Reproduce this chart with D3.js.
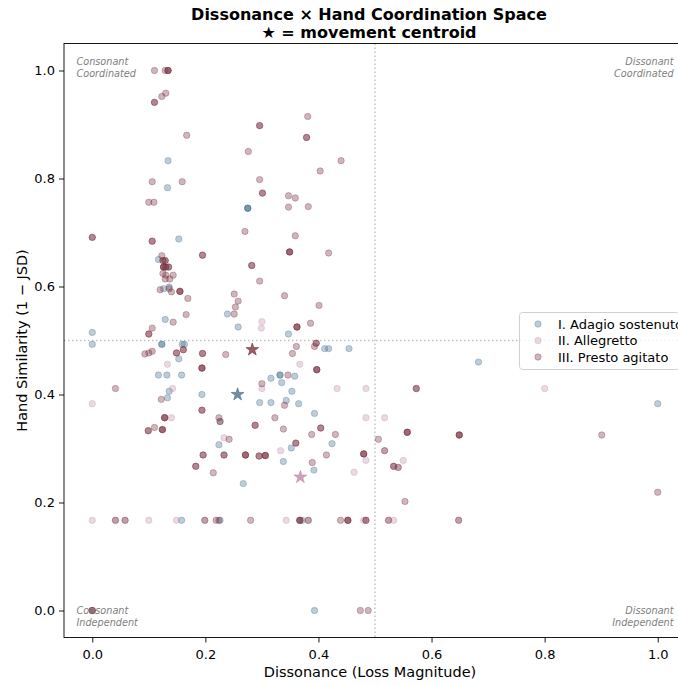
<!DOCTYPE html>
<html><head><meta charset="utf-8">
<script src="https://cdn.jsdelivr.net/npm/d3@7"></script>
<style>body{margin:0;background:#fff}svg{display:block;font-family:"DejaVu Sans",sans-serif}</style>
</head><body>
<script>
// ---- data ----
const seriesNames = ["I. Adagio sostenuto", "II. Allegretto", "III. Presto agitato"];
const adagio = [
 [0.134,0.833],[0.133,0.783],[0.275,0.745],[0.275,0.745],[0.275,0.745],[0.153,0.688],[0.117,0.650],
 [0.136,0.599],[0.126,0.596],[0.129,0.539],[0.239,0.549],[0.258,0.525],[0.0,0.515],[0.0,0.493],
 [0.123,0.493],[0.123,0.493],[0.159,0.493],[0.163,0.493],[0.153,0.466],[0.117,0.436],[0.132,0.436],
 [0.158,0.436],[0.347,0.512],[0.411,0.485],[0.418,0.485],[0.454,0.485],[0.316,0.430],[0.332,0.436],
 [0.332,0.436],[0.358,0.434],[0.335,0.422],[0.353,0.406],[0.296,0.385],[0.316,0.385],[0.343,0.389],
 [0.365,0.383],[0.393,0.365],[0.424,0.309],[0.352,0.301],[0.338,0.276],[0.392,0.260],[0.136,0.406],
 [0.133,0.394],[0.194,0.400],[0.226,0.350],[0.224,0.307],[0.267,0.235],[0.158,0.167],[0.226,0.167],
 [0.371,0.167],[0.393,0.0],[0.683,0.460],[1.0,0.383]
];
const allegretto = [
 [0.300,0.535],[0.299,0.523],[0.133,0.456],[0.367,0.456],[0.300,0.411],[0.433,0.411],[0.484,0.411],
 [0.800,0.411],[0.484,0.357],[0.517,0.357],[0.333,0.296],[0.484,0.278],[0.463,0.256],[0.550,0.278],
 [0.517,0.296],[0.541,0.265],[0.0,0.383],[0.142,0.411],[0.140,0.357],[0.233,0.320],
 [0.0,0.167],[0.041,0.167],[0.058,0.167],[0.100,0.167],[0.149,0.167],[0.199,0.167],[0.343,0.167],
 [0.382,0.167],[0.480,0.167],[0.524,0.167],[0.533,0.167],[0.648,0.167]
];
const presto = [
 [0.110,1.0],[0.129,1.0],[0.134,1.0],[0.134,1.0],[0.134,1.0],[0.130,0.958],[0.123,0.952],[0.110,0.941],
 [0.110,0.941],[0.296,0.898],[0.296,0.898],[0.167,0.880],[0.276,0.850],[0.106,0.794],[0.159,0.794],
 [0.296,0.798],[0.301,0.773],[0.301,0.773],[0.100,0.756],[0.109,0.756],[0.381,0.915],[0.379,0.876],
 [0.379,0.876],[0.440,0.833],[0.403,0.814],[0.347,0.768],[0.359,0.764],[0.347,0.747],[0.382,0.748],
 [0.270,0.702],[0.0,0.691],[0.0,0.691],[0.106,0.684],[0.106,0.684],[0.195,0.658],[0.195,0.658],
 [0.282,0.639],[0.282,0.639],[0.296,0.610],[0.123,0.657],[0.125,0.648],[0.125,0.648],[0.129,0.648],
 [0.129,0.648],[0.126,0.636],[0.126,0.636],[0.126,0.636],[0.130,0.636],[0.130,0.636],[0.135,0.636],
 [0.135,0.636],[0.125,0.624],[0.130,0.621],[0.143,0.621],[0.129,0.614],[0.137,0.614],[0.120,0.594],
 [0.136,0.596],[0.140,0.590],[0.155,0.591],[0.155,0.591],[0.155,0.591],[0.169,0.578],[0.166,0.548],
 [0.143,0.534],[0.106,0.523],[0.100,0.512],[0.100,0.512],[0.093,0.475],[0.100,0.477],[0.106,0.480],
 [0.149,0.477],[0.149,0.477],[0.161,0.483],[0.161,0.483],[0.195,0.476],[0.195,0.476],[0.236,0.474],
 [0.194,0.449],[0.194,0.449],[0.194,0.449],[0.251,0.586],[0.258,0.573],[0.253,0.562],[0.251,0.549],
 [0.359,0.694],[0.349,0.664],[0.349,0.664],[0.349,0.664],[0.418,0.662],[0.340,0.583],[0.401,0.565],
 [0.362,0.525],[0.362,0.525],[0.362,0.525],[0.386,0.532],[0.361,0.489],[0.393,0.489],[0.396,0.495],
 [0.396,0.495],[0.354,0.476],[0.397,0.446],[0.397,0.446],[0.397,0.446],[0.346,0.436],[0.300,0.420],
 [0.340,0.380],[0.573,0.411],[0.573,0.411],[0.323,0.357],[0.338,0.336],[0.404,0.338],[0.404,0.338],
 [0.388,0.326],[0.430,0.326],[0.360,0.310],[0.360,0.310],[0.389,0.274],[0.414,0.288],[0.480,0.290],
 [0.480,0.290],[0.480,0.290],[0.295,0.286],[0.295,0.286],[0.306,0.287],[0.306,0.287],[0.306,0.287],
 [0.506,0.317],[0.557,0.330],[0.557,0.330],[0.557,0.330],[0.649,0.325],[0.649,0.325],[0.649,0.325],
 [0.517,0.296],[0.533,0.267],[0.533,0.267],[0.541,0.265],[0.553,0.202],
 [0.367,0.167],[0.367,0.167],[0.367,0.167],[0.382,0.167],[0.439,0.167],[0.452,0.167],[0.452,0.167],
 [0.452,0.167],[0.484,0.167],[0.484,0.167],[0.524,0.167],[0.648,0.167],[0.041,0.167],[0.058,0.167],
 [0.199,0.167],[0.219,0.167],[0.224,0.167],[0.280,0.167],
 [0.474,0.0],[0.488,0.0],[0.0,0.0],[0.0,0.0],[0.0,0.0],[0.901,0.325],[1.0,0.219],[0.122,0.391],
 [0.194,0.371],[0.194,0.371],[0.128,0.357],[0.128,0.357],[0.128,0.357],[0.099,0.333],[0.099,0.333],
 [0.110,0.339],[0.124,0.335],[0.124,0.335],[0.124,0.335],[0.224,0.357],[0.226,0.350],[0.288,0.343],
 [0.288,0.343],[0.242,0.317],[0.196,0.288],[0.196,0.288],[0.233,0.288],[0.233,0.288],[0.271,0.288],
 [0.271,0.288],[0.271,0.288],[0.183,0.267],[0.183,0.267],[0.214,0.255],[0.041,0.411]
];
const centroidX = [0.257, 0.368, 0.283];
const centroidY = [0.400, 0.247, 0.483];
const xTicks = [0.0, 0.2, 0.4, 0.6, 0.8, 1.0];
const yTicks = [0.0, 0.2, 0.4, 0.6, 0.8, 1.0];
const cornerLabels = [
 {t:["Consonant","Coordinated"], pos:"tl"},
 {t:["Dissonant","Coordinated"], pos:"tr"},
 {t:["Consonant","Independent"], pos:"bl"},
 {t:["Dissonant","Independent"], pos:"br"}
];

// ---- styles ----
const colors = ["#4a7290", "#be8caa", "#7a3444"];
const ptAlpha = [0.36, 0.33, 0.36];

const W = 678, H = 685;
const m = {left:64, right:686, top:43.5, bottom:637.5};
const svg = d3.select("body").append("svg").attr("width", W).attr("height", H);

const x = d3.scaleLinear().domain([-0.05, 1.05]).range([m.left, m.right]);
const y = d3.scaleLinear().domain([-0.05, 1.05]).range([m.bottom, m.top]);

svg.append("clipPath").attr("id","c").append("rect")
  .attr("x", m.left).attr("y", m.top).attr("width", m.right-m.left).attr("height", m.bottom-m.top);

const plot = svg.append("g").attr("clip-path","url(#c)");

// reference lines
plot.append("line").attr("x1", x(0.5)).attr("x2", x(0.5)).attr("y1", m.top).attr("y2", m.bottom)
  .attr("stroke","#bdbdbd").attr("stroke-width",1.4).attr("stroke-dasharray","1.4,2.6");
plot.append("line").attr("x1", m.left).attr("x2", m.right).attr("y1", y(0.5)).attr("y2", y(0.5))
  .attr("stroke","#bdbdbd").attr("stroke-width",1.4).attr("stroke-dasharray","1.4,2.6");

const allSeries = [adagio, allegretto, presto];
allSeries.forEach((pts, i) => {
  plot.append("g").selectAll("circle").data(pts).join("circle")
    .attr("cx", d => x(d[0])).attr("cy", d => y(d[1])).attr("r", 3.2)
    .attr("fill", colors[i]).attr("fill-opacity", ptAlpha[i])
    .attr("stroke", colors[i]).attr("stroke-opacity", ptAlpha[i]).attr("stroke-width", 0.9);
});

// centroids
const star = d3.symbol().type(d3.symbolStar).size(50);
centroidX.forEach((cx, i) => {
  plot.append("path").attr("d", star())
    .attr("transform", `translate(${x(cx)},${y(centroidY[i])})`)
    .attr("fill", colors[i]).attr("fill-opacity", 0.8)
    .attr("stroke", colors[i]).attr("stroke-opacity", 0.8).attr("stroke-width", 0.8);
});

// corner labels
const cg = svg.append("g").attr("font-style","italic").attr("font-size","9.7px").attr("fill","#808080");
cornerLabels.forEach(c => {
  const right = c.pos[1] === "r", top = c.pos[0] === "t";
  const tx = right ? m.right - 0.02*(m.right-m.left) : m.left + 0.02*(m.right-m.left);
  const y0 = top ? 65 : 614;
  c.t.forEach((line, j) => {
    cg.append("text").attr("x", tx).attr("y", y0 + j*12)
      .attr("text-anchor", right ? "end" : "start").text(line);
  });
});

// axes
const xAxis = svg.append("g").attr("transform", `translate(0,${m.bottom})`)
  .call(d3.axisBottom(x).tickValues(xTicks).tickFormat(d3.format(".1f")).tickSize(5).tickPadding(4));
const yAxis = svg.append("g").attr("transform", `translate(${m.left},0)`)
  .call(d3.axisLeft(y).tickValues(yTicks).tickFormat(d3.format(".1f")).tickSize(5).tickPadding(4));
[xAxis, yAxis].forEach(a => {
  a.selectAll("text").attr("font-size","13px").attr("fill","#000").attr("font-family","DejaVu Sans");
  a.selectAll("line").attr("stroke","#000").attr("stroke-width",0.9);
  a.select(".domain").remove();
});
xAxis.selectAll("text").attr("dy","0.95em");
// frame
svg.append("rect").attr("x", m.left).attr("y", m.top).attr("width", m.right-m.left).attr("height", m.bottom-m.top)
  .attr("fill","none").attr("stroke","#000").attr("stroke-width",0.9);

// axis labels
svg.append("text").attr("x", 370).attr("y", 677).attr("text-anchor","middle")
  .attr("font-size","14.5px").text("Dissonance (Loss Magnitude)");
svg.append("text").attr("transform", `translate(27,${(m.top+m.bottom)/2}) rotate(-90)`)
  .attr("text-anchor","middle").attr("font-size","14.5px").text("Hand Similarity (1 − JSD)");

// title
const tg = svg.append("g").attr("font-weight","bold").attr("font-size","16px").attr("text-anchor","middle");
tg.append("text").attr("x", 369).attr("y", 20).text("Dissonance × Hand Coordination Space");
tg.append("text").attr("x", 369).attr("y", 38).text("★ = movement centroid");

// legend
const lg = svg.append("g");
lg.append("rect").attr("x", 519.5).attr("y", 312.5).attr("width", 160).attr("height", 57).attr("rx", 3)
  .attr("fill","#fff").attr("fill-opacity",0.8).attr("stroke","#d0d0d0").attr("stroke-width",1);
seriesNames.forEach((n, i) => {
  const yy = 324 + i*16.5;
  lg.append("circle").attr("cx", 538).attr("cy", yy).attr("r", 3.2)
    .attr("fill", colors[i]).attr("fill-opacity", ptAlpha[i])
    .attr("stroke", colors[i]).attr("stroke-opacity", ptAlpha[i]).attr("stroke-width", 0.9);
  lg.append("text").attr("x", 558).attr("y", yy + 4.5).attr("font-size","13px").text(n);
});
</script>
</body></html>
